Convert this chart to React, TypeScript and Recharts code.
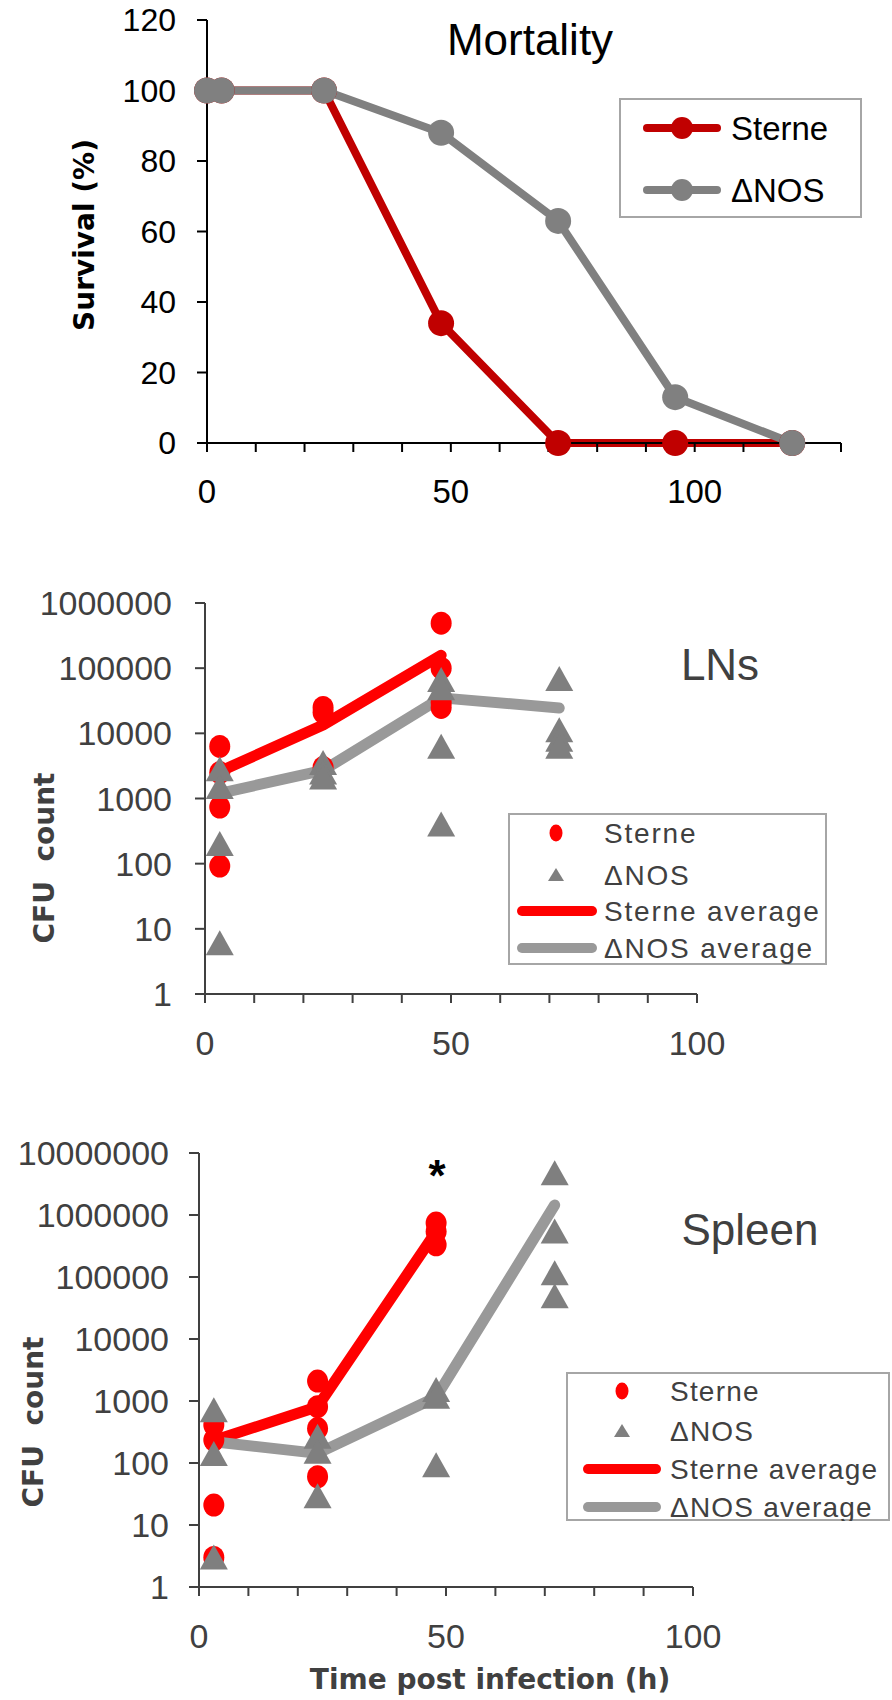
import React from 'react';
import {
  LineChart,
  ComposedChart,
  Line,
  Scatter,
  XAxis,
  YAxis,
  Legend
} from 'recharts';

// Mortality panel
const mortalityHours = [0, 3, 24, 48, 72, 96, 120];
const mortalitySterne = [100, 100, 100, 34, 0, 0, 0];
const mortalityNos = [100, 100, 100, 88, 63, 13, 0];
const mortalityXTicks = [0, 10, 20, 30, 40, 50, 60, 70, 80, 90, 100, 110, 120, 130];
const mortalityYTicks = [0, 20, 40, 60, 80, 100, 120];

// LNs panel
const lnSterneHours = [3, 3, 3, 3, 24, 24, 24, 48, 48, 48, 48];
const lnSterneCfu = [6300, 2500, 740, 92, 25000, 21000, 3000, 490000, 100000, 30000, 25000];
const lnNosHours = [3, 3, 3, 3, 24, 24, 24, 48, 48, 48, 48, 72, 72, 72, 72];
const lnNosCfu = [2800, 1500, 200, 6, 3500, 2500, 2100, 66000, 49000, 6200, 400, 68000, 11200, 8000, 6200];
const lnSterneAvgHours = [3, 24, 48];
const lnSterneAvg = [2600, 13400, 158000];
const lnNosAvgHours = [3, 24, 48, 72];
const lnNosAvg = [1200, 2700, 35000, 24500];

// Spleen panel
const spleenSterneHours = [3, 3, 3, 3, 24, 24, 24, 24, 48, 48, 48];
const spleenSterneCfu = [410, 234, 21, 3, 2100, 810, 360, 60, 740000, 540000, 330000];
const spleenNosHours = [3, 3, 3, 24, 24, 24, 48, 48, 48, 72, 72, 72, 72];
const spleenNosCfu = [710, 140, 3, 265, 152, 29, 1500, 1170, 92, 4700000, 540000, 115000, 49000];
const spleenSterneAvgHours = [3, 24, 48];
const spleenSterneAvg = [230, 810, 540000];
const spleenNosAvgHours = [3, 24, 48, 72];
const spleenNosAvg = [220, 143, 1150, 1450000];

const cfuXTicks = [0, 10, 20, 30, 40, 50, 60, 70, 80, 90, 100];
const cfuXLabels = [0, 50, 100];
const lnYTicks = [1, 10, 100, 1000, 10000, 100000, 1000000];
const spleenYTicks = [1, 10, 100, 1000, 10000, 100000, 1000000, 10000000];

const tickFont = 'Liberation Sans, Arial, sans-serif';
const boldFont = 'DejaVu Sans, Verdana, sans-serif';
const darkGrey = '#404040';
const red = '#FF0000';
const triGrey = '#7F7F7F';
const avgGrey = '#999999';

const toPoints = (hours: number[], values: number[]) =>
  values.map((v, i) => ({ t: hours[i], v }));

const mortalityRows = mortalityHours.map((t, i) => ({
  t,
  sterne: mortalitySterne[i],
  nos: mortalityNos[i]
}));

const labelEvery50 = (v: number) => (cfuXLabels.includes(v) ? String(v) : '');

const RedDot = (props: any) => (
  <ellipse cx={props.cx} cy={props.cy} rx={10.5} ry={11.5} fill={red} />
);

const GreyTriangle = (props: any) => {
  const { cx, cy } = props;
  return (
    <polygon
      points={`${cx},${cy - 13} ${cx + 14},${cy + 12} ${cx - 14},${cy + 12}`}
      fill={triGrey}
    />
  );
};

type LegendItem = { label: string; kind: 'lineDot' | 'dot' | 'tri' | 'line'; color: string };

interface LegendBoxProps {
  items: LegendItem[];
  width: number;
  height: number;
  rows: number[];
  markX: number;
  lineFrom: number;
  lineTo: number;
  textX: number;
  fontSize: number;
  color: string;
  letterSpacing: number;
  lineWidth: number;
}

const LegendBox = (p: LegendBoxProps) => (
  <svg width={p.width} height={p.height} style={{ display: 'block' }}>
    <rect x={1} y={1} width={p.width - 2} height={p.height - 2} fill="#fff" stroke="#A6A6A6" strokeWidth={2} />
    {p.items.map((it, i) => {
      const y = p.rows[i];
      return (
        <g key={it.label}>
          {(it.kind === 'line' || it.kind === 'lineDot') && (
            <line x1={p.lineFrom} x2={p.lineTo} y1={y} y2={y} stroke={it.color}
              strokeWidth={p.lineWidth} strokeLinecap="round" />
          )}
          {it.kind === 'lineDot' && <circle cx={p.markX} cy={y} r={11} fill={it.color} />}
          {it.kind === 'dot' && <ellipse cx={p.markX} cy={y} rx={6.5} ry={8.5} fill={it.color} />}
          {it.kind === 'tri' && (
            <polygon points={`${p.markX},${y - 7} ${p.markX + 8},${y + 6} ${p.markX - 8},${y + 6}`} fill={it.color} />
          )}
          <text x={p.textX} y={y} dominantBaseline="central" fontFamily={tickFont}
            fontSize={p.fontSize} fill={p.color} letterSpacing={p.letterSpacing}
            style={{ whiteSpace: 'pre' }}>
            {it.label}
          </text>
        </g>
      );
    })}
  </svg>
);

const cfuLegendItems: LegendItem[] = [
  { label: 'Sterne', kind: 'dot', color: red },
  { label: '\u0394NOS', kind: 'tri', color: triGrey },
  { label: 'Sterne average', kind: 'line', color: red },
  { label: '\u0394NOS average', kind: 'line', color: avgGrey }
];

const MortalityChart = () => (
  <LineChart width={892} height={540} data={mortalityRows} margin={{ top: 20, right: 51, bottom: 0, left: 0 }}>
    <XAxis dataKey="t" type="number" domain={[0, 130]} ticks={mortalityXTicks} interval={0}
      tickFormatter={labelEvery50} height={97} axisLine={{ stroke: '#000', strokeWidth: 2 }}
      tickLine={{ stroke: '#000', strokeWidth: 2 }} tickSize={9} tickMargin={28}
      tick={{ fill: '#000', fontSize: 33, fontFamily: tickFont }} />
    <YAxis type="number" domain={[0, 120]} ticks={mortalityYTicks} interval={0} width={207}
      axisLine={{ stroke: '#000', strokeWidth: 2 }} tickLine={{ stroke: '#000', strokeWidth: 2 }}
      tickSize={10} tickMargin={21} tick={{ fill: '#000', fontSize: 32, fontFamily: tickFont }} />
    <Line dataKey="sterne" stroke="#C00000" strokeWidth={8} strokeLinejoin="round"
      dot={{ r: 13, fill: '#C00000', strokeWidth: 0 }} activeDot={false} isAnimationActive={false} />
    <Line dataKey="nos" stroke="#808080" strokeWidth={8} strokeLinejoin="round"
      dot={{ r: 13, fill: '#808080', strokeWidth: 0 }} activeDot={false} isAnimationActive={false} />
    <Legend layout="vertical" align="center" verticalAlign="middle"
      wrapperStyle={{ left: 619, top: 98, width: 243, height: 120 }}
      content={() => (
        <LegendBox
          items={[
            { label: 'Sterne', kind: 'lineDot', color: '#C00000' },
            { label: '\u0394NOS', kind: 'lineDot', color: '#808080' }
          ]}
          width={243} height={120} rows={[30, 92]} markX={63} lineFrom={28} lineTo={98}
          textX={112} fontSize={33} color="#000" letterSpacing={0} lineWidth={8}
        />
      )} />
  </LineChart>
);

interface CfuProps {
  height: number;
  top: number;
  right: number;
  axisWidth: number;
  xAxisHeight: number;
  yMax: number;
  yTicks: number[];
  sterne: { t: number; v: number }[];
  nos: { t: number; v: number }[];
  sterneAvg: { t: number; v: number }[];
  nosAvg: { t: number; v: number }[];
  tickMargin: number;
  legend: { left: number; top: number; width: number; height: number; rows: number[];
    markX: number; lineFrom: number; lineTo: number; textX: number; letterSpacing: number };
}

const CfuChart = (p: CfuProps) => (
  <ComposedChart width={892} height={p.height} margin={{ top: p.top, right: p.right, bottom: 0, left: 0 }}>
    <XAxis dataKey="t" type="number" domain={[0, 100]} ticks={cfuXTicks} interval={0}
      tickFormatter={labelEvery50} height={p.xAxisHeight} axisLine={{ stroke: darkGrey, strokeWidth: 2 }}
      tickLine={{ stroke: darkGrey, strokeWidth: 2 }} tickSize={9} tickMargin={28}
      tick={{ fill: darkGrey, fontSize: 34, fontFamily: tickFont }} />
    <YAxis type="number" scale="log" domain={[1, p.yMax]} allowDataOverflow ticks={p.yTicks} interval={0}
      width={p.axisWidth} axisLine={{ stroke: darkGrey, strokeWidth: 2 }}
      tickLine={{ stroke: darkGrey, strokeWidth: 2 }} tickSize={10} tickMargin={p.tickMargin}
      tickFormatter={(v: number) => String(v)}
      tick={{ fill: darkGrey, fontSize: 34, fontFamily: tickFont }} />
    <Line data={p.sterneAvg} dataKey="v" stroke={red} strokeWidth={11} strokeLinecap="round"
      strokeLinejoin="round" dot={false} activeDot={false} isAnimationActive={false} />
    <Line data={p.nosAvg} dataKey="v" stroke={avgGrey} strokeWidth={11} strokeLinecap="round"
      strokeLinejoin="round" dot={false} activeDot={false} isAnimationActive={false} />
    <Scatter data={p.sterne} dataKey="v" shape={RedDot} isAnimationActive={false} />
    <Scatter data={p.nos} dataKey="v" shape={GreyTriangle} isAnimationActive={false} />
    <Legend layout="vertical" align="center" verticalAlign="middle"
      wrapperStyle={{ left: p.legend.left, top: p.legend.top, width: p.legend.width, height: p.legend.height }}
      content={() => (
        <LegendBox items={cfuLegendItems} width={p.legend.width} height={p.legend.height}
          rows={p.legend.rows} markX={p.legend.markX} lineFrom={p.legend.lineFrom}
          lineTo={p.legend.lineTo} textX={p.legend.textX} fontSize={28} color={darkGrey}
          letterSpacing={p.legend.letterSpacing} lineWidth={10} />
      )} />
  </ComposedChart>
);

const Titles = () => (
  <svg width={892} height={1700} style={{ position: 'absolute', left: 0, top: 0, pointerEvents: 'none' }}>
    <text x={530} y={55} textAnchor="middle" fontFamily={tickFont} fontSize={44} fill="#000">Mortality</text>
    <text x={94} y={235} transform="rotate(-90 94 235)" textAnchor="middle" fontFamily={boldFont}
      fontWeight="bold" fontSize={28} fill="#000">Survival (%)</text>

    <text x={720} y={680} textAnchor="middle" fontFamily={tickFont} fontSize={44} fill={darkGrey}>LNs</text>
    <text x={54} y={858} transform="rotate(-90 54 858)" textAnchor="middle" fontFamily={boldFont}
      fontWeight="bold" fontSize={28} fill={darkGrey} style={{ whiteSpace: 'pre' }}>CFU  count</text>

    <text x={750} y={1245} textAnchor="middle" fontFamily={tickFont} fontSize={44} fill={darkGrey}>Spleen</text>
    <text x={437} y={1191} textAnchor="middle" fontFamily={tickFont} fontWeight="bold" fontSize={44} fill="#000">*</text>
    <text x={43} y={1422} transform="rotate(-90 43 1422)" textAnchor="middle" fontFamily={boldFont}
      fontWeight="bold" fontSize={28} fill={darkGrey} style={{ whiteSpace: 'pre' }}>CFU  count</text>
    <text x={490} y={1689} textAnchor="middle" fontFamily={boldFont} fontWeight="bold" fontSize={28}
      fill={darkGrey}>Time post infection (h)</text>
  </svg>
);

const App = () => (
  <div style={{ position: 'absolute', left: 0, top: 0, width: 892, height: 1700, background: '#fff' }}>
    <div style={{ position: 'absolute', left: 0, top: 0 }}>
      <MortalityChart />
    </div>
    <div style={{ position: 'absolute', left: 0, top: 540 }}>
      <CfuChart height={535} top={63} right={195} axisWidth={205} xAxisHeight={81} yMax={1000000}
        yTicks={lnYTicks} tickMargin={23}
        sterne={toPoints(lnSterneHours, lnSterneCfu)} nos={toPoints(lnNosHours, lnNosCfu)}
        sterneAvg={toPoints(lnSterneAvgHours, lnSterneAvg)} nosAvg={toPoints(lnNosAvgHours, lnNosAvg)}
        legend={{ left: 508, top: 273, width: 319, height: 152, rows: [20, 62, 98, 135],
          markX: 48, lineFrom: 14, lineTo: 84, textX: 96, letterSpacing: 1.8 }} />
    </div>
    <div style={{ position: 'absolute', left: 0, top: 1080 }}>
      <CfuChart height={620} top={73} right={199} axisWidth={199} xAxisHeight={113} yMax={10000000}
        yTicks={spleenYTicks} tickMargin={20}
        sterne={toPoints(spleenSterneHours, spleenSterneCfu)} nos={toPoints(spleenNosHours, spleenNosCfu)}
        sterneAvg={toPoints(spleenSterneAvgHours, spleenSterneAvg)}
        nosAvg={toPoints(spleenNosAvgHours, spleenNosAvg)}
        legend={{ left: 566, top: 292, width: 324, height: 149, rows: [19, 59, 97, 135],
          markX: 56, lineFrom: 22, lineTo: 90, textX: 104, letterSpacing: 1.2 }} />
    </div>
    <Titles />
  </div>
);

export default App;
